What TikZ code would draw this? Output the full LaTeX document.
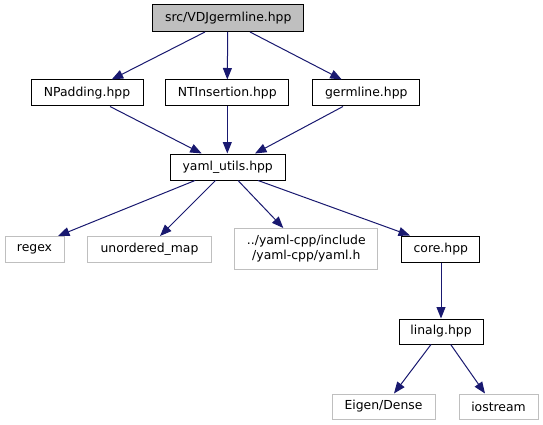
\documentclass[tikz,border=0pt]{standalone}
\usepackage{fontspec}
\setmainfont{DejaVu Sans}
\usetikzlibrary{arrows.meta}
\definecolor{edgeblue}{HTML}{191970}
\definecolor{extgray}{HTML}{BFBFBF}
\definecolor{srcfill}{HTML}{BFBFBF}
\begin{document}
\begin{tikzpicture}[x=1pt,y=-1pt,
  box/.style={draw=black, line width=1pt, fill=white, inner sep=0pt,
    font=\fontsize{12.4}{15}\selectfont, align=center, minimum height=26pt},
  ext/.style={box, draw=extgray},
  dep/.style={draw=edgeblue, line width=1pt,
    -{Triangle[length=11.5pt,width=9pt,fill=edgeblue]}}]
\useasboundingbox (0,0) rectangle (543,425);
\fill[white] (0,0) rectangle (543,425);
% nodes
\node[box, fill=srcfill, minimum width=151pt, minimum height=27pt] (src) at (228.3,18) {src/VDJgermline.hpp};
\node[box, minimum width=112pt] (npad) at (87,93) {NPadding.hpp};
\node[box, minimum width=122.7pt] (ntins) at (227.3,93) {NTInsertion.hpp};
\node[box, minimum width=107.3pt] (germ) at (366.3,93) {germline.hpp};
\node[box, minimum width=115.3pt] (yaml) at (227.7,167) {yaml\_utils.hpp};
\node[ext, minimum width=59pt] (regex) at (34.5,249.5) {regex};
\node[ext, minimum width=124.4pt] (umap) at (149.5,249.5) {unordered\_map};
\node[ext, minimum width=142.7pt, minimum height=41pt] (yamlh) at (306.3,249) {../yaml-cpp/include\\/yaml-cpp/yaml.h};
\node[box, minimum width=78.3pt] (core) at (440.8,249) {core.hpp};
\node[box, minimum width=84pt, minimum height=25pt] (linalg) at (441,331.5) {linalg.hpp};
\node[ext, minimum width=103pt, minimum height=25pt] (eigen) at (383.5,406.5) {Eigen/Dense};
\node[ext, minimum width=79pt, minimum height=25pt] (iostr) at (498.5,406.5) {iostream};
% edges
\draw[dep] ([xshift=-23.3pt]src.south) -- ([xshift=24.7pt]npad.north);
\draw[dep] ([xshift=-0.6pt]src.south) -- (ntins.north);
\draw[dep] ([xshift=21.7pt]src.south) -- ([xshift=-24.6pt]germ.north);
\draw[dep] ([xshift=23pt]npad.south) -- ([xshift=-26pt]yaml.north);
\draw[dep] (ntins.south) -- ([xshift=-0.4pt]yaml.north);
\draw[dep] ([xshift=-23.3pt]germ.south) -- ([xshift=27.3pt]yaml.north);
\draw[dep] ([xshift=-32.7pt]yaml.south) -- ([xshift=23.5pt]regex.north);
\draw[dep] ([xshift=-12.2pt]yaml.south) -- ([xshift=10.5pt]umap.north);
\draw[dep] ([xshift=10.3pt]yaml.south) -- ([xshift=-23pt]yamlh.north);
\draw[dep] ([xshift=30.3pt]yaml.south) -- ([xshift=-30.8pt]core.north);
\draw[dep] ([xshift=0.2pt]core.south) -- (linalg.north);
\draw[dep] ([xshift=-10pt]linalg.south) -- ([xshift=10.5pt]eigen.north);
\draw[dep] ([xshift=9.7pt]linalg.south) -- ([xshift=-13.5pt]iostr.north);
\end{tikzpicture}
\end{document}
